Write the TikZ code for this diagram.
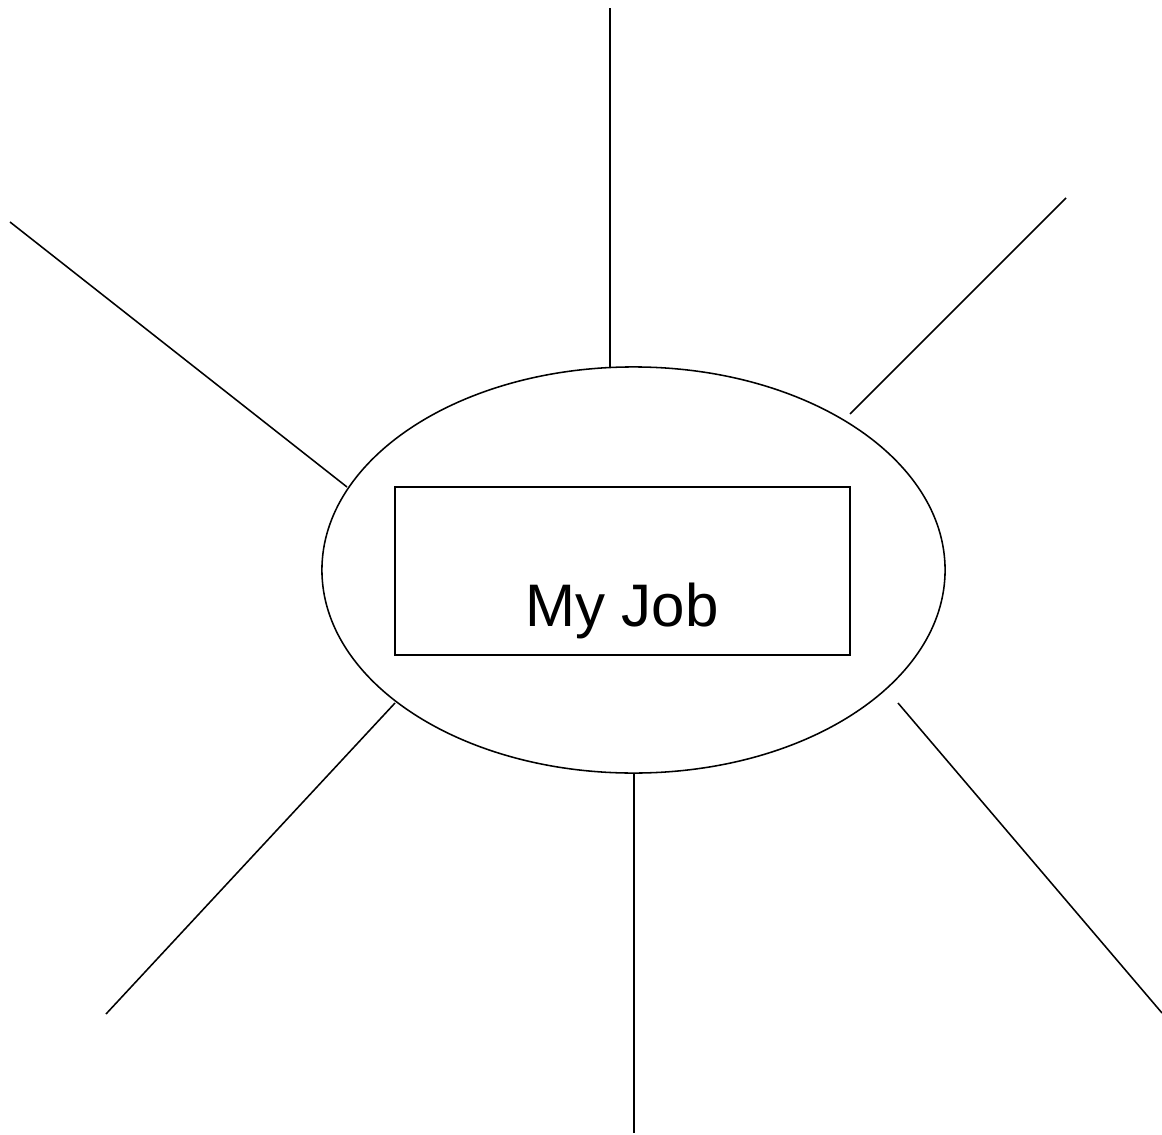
\documentclass[tikz,border=0pt]{standalone}
\usepackage{fontspec}
\setmainfont{Liberation Sans}
\usepackage{tikz}
\usetikzlibrary{shapes.geometric}
\tikzset{
    % centre
    hubshape/.style={ellipse, draw=black, line width=1.1pt, inner sep=0pt,
                minimum width=15.575cm, minimum height=10.15cm},
    titlebox/.style={rectangle, draw=black, line width=1.1pt, inner sep=0pt,
                minimum width=11.375cm, minimum height=4.2cm},
    titletext/.style={font=\fontsize{42.7}{50}\selectfont, anchor=base, inner sep=0pt},
    % spokes
    spoke/.style={line width=1.1pt, black},
}
\begin{document}
\begin{tikzpicture}[x=0.025cm, y=-0.025cm]
\useasboundingbox (0,0) rectangle (1162,1135);
\node[hubshape]  (hub)   at (633.5,570)  {};
\node[titlebox]  (box)   at (622.5,571)  {};
\node[titletext] (title) at (622,626)    {My Job};

\coordinate (topin)  at (610,367);  \coordinate (topout) at (610,8);
\coordinate (urin)   at (850,414);  \coordinate (urout)  at (1066,198);
\coordinate (ulin)   at (347,487);  \coordinate (ulout)  at (10,222);
\coordinate (llin)   at (395,703);  \coordinate (llout)  at (106,1014);
\coordinate (botin)  at (634,773);  \coordinate (botout) at (634,1133);
\coordinate (lrin)   at (898,703);  \coordinate (lrout)  at (1162,1013);

\draw[spoke] (topin) -- (topout);
\draw[spoke] (urin) -- (urout);
\draw[spoke] (ulin) -- (ulout);
\draw[spoke] (llin) -- (llout);
\draw[spoke] (botin) -- (botout);
\draw[spoke] (lrin) -- (lrout);
\end{tikzpicture}
\end{document}
